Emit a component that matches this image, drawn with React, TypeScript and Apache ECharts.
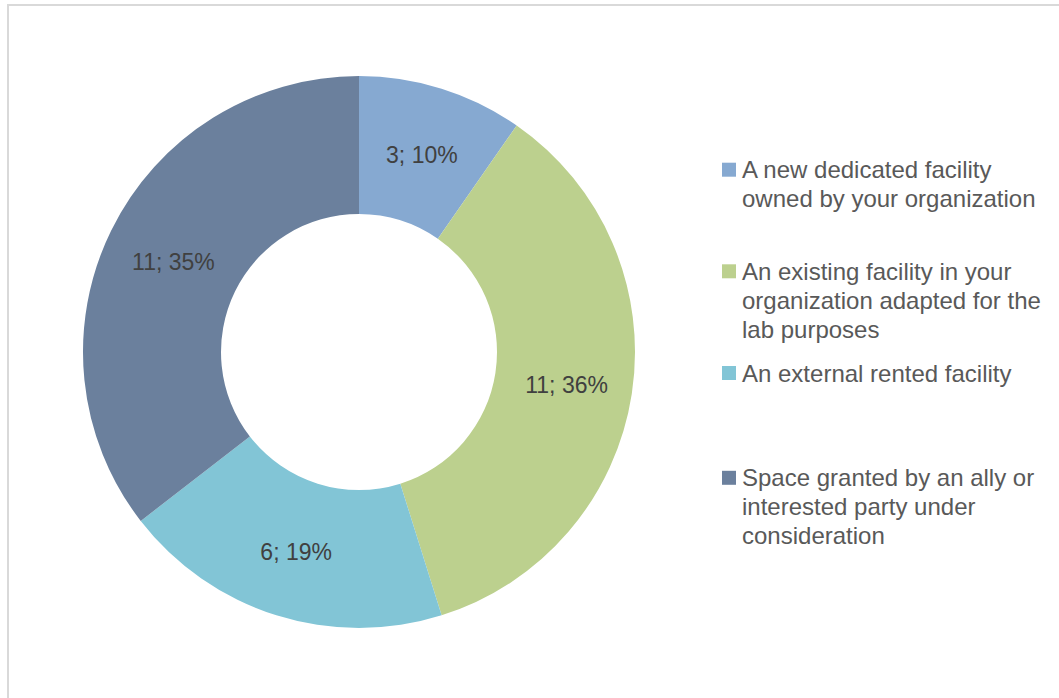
import React, { useEffect, useRef } from "react";
import * as echarts from "echarts";

const categories = [
  "A new dedicated facility owned by your organization",
  "An existing facility in your organization adapted for the lab purposes",
  "An external rented facility",
  "Space granted by an ally or interested party under consideration",
];
const values = [3, 11, 6, 11];
const colors = ["#86A9D1", "#BCD08E", "#82C5D6", "#6B809D"];

const FONT = "'Liberation Sans', Arial, sans-serif";

function wrap(text: string, font: string, maxWidth: number): string {
  const ctx = document.createElement("canvas").getContext("2d")!;
  ctx.font = font;
  const words = text.split(" ");
  const lines: string[] = [];
  let cur = "";
  for (const w of words) {
    const test = cur ? cur + " " + w : w;
    if (cur && ctx.measureText(test).width > maxWidth) {
      lines.push(cur);
      cur = w;
    } else {
      cur = test;
    }
  }
  if (cur) lines.push(cur);
  return lines.join("\n");
}

export default function App() {
  const ref = useRef<HTMLDivElement>(null);
  useEffect(() => {
    if (!ref.current) return;
    const chart = echarts.init(ref.current, null, { renderer: "svg" });
    const legendFont = `24px ${FONT}`;
    const legendCenters = [169.7, 271.3, 373, 477.8];
    const labelOffsets = [[0, 3], [0, 1], [0, 0], [3, 2]];
    const legendGraphics: any[] = [];
    categories.forEach((name, i) => {
      const cy = legendCenters[i];
      legendGraphics.push({
        type: "rect",
        shape: { x: 722, y: cy - 7, width: 14, height: 14 },
        style: { fill: colors[i] },
      });
      legendGraphics.push({
        type: "text",
        x: 742,
        y: cy - 14.5,
        style: {
          text: wrap(name, legendFont, 304),
          font: legendFont,
          fill: "#595959",
          lineHeight: 29,
          verticalAlign: "top",
          align: "left",
        },
      });
    });
    chart.setOption({
      animation: false,
      backgroundColor: "#ffffff",
      graphic: [
        {
          type: "line",
          shape: { x1: 7, y1: 5, x2: 1059, y2: 5 },
          style: { stroke: "#D9D9D9", lineWidth: 2 },
        },
        {
          type: "line",
          shape: { x1: 8, y1: 4, x2: 8, y2: 698 },
          style: { stroke: "#D9D9D9", lineWidth: 2 },
        },
        ...legendGraphics,
      ],
      series: [
        {
          type: "pie",
          center: [359, 352],
          radius: [138, 276],
          startAngle: 90,
          clockwise: true,
          percentPrecision: 0,
          avoidLabelOverlap: false,
          data: categories.map((name, i) => ({
            name,
            value: values[i],
            itemStyle: { color: colors[i] },
            label: { offset: labelOffsets[i] },
          })),
          itemStyle: { borderWidth: 0 },
          label: {
            show: true,
            position: "inside",
            formatter: "{c}; {d}%",
            fontFamily: FONT,
            fontSize: 23,
            color: "#404040",
          },
          labelLine: { show: false },
          emphasis: { disabled: true },
        },
      ],
    });
    return () => chart.dispose();
  }, []);
  return (
    <div
      ref={ref}
      style={{ position: "fixed", left: 0, top: 0, width: 1059, height: 698 }}
    />
  );
}
